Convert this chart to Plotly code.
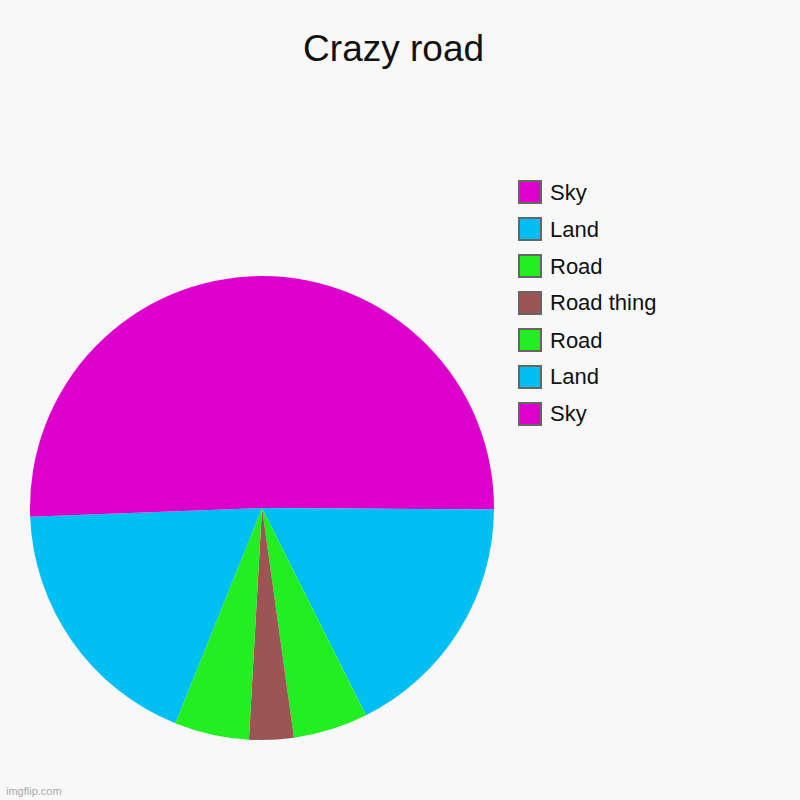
import plotly.graph_objects as go

# Data
labels = ["Sky", "Land", "Road", "Road thing", "Road", "Land", "Sky"]
values = [25.1, 17.5, 5.2, 3.1, 5.2, 18.3, 25.6]
colors = ["#DD00CC", "#00C0F3", "#22EE22", "#9B5555", "#22EE22", "#00C0F3", "#DD00CC"]

W, H = 800, 800
BG = "#F8F8F8"
FONT = "Arial, Liberation Sans, Helvetica, sans-serif"

fig = go.Figure()
fig.add_trace(go.Pie(
    labels=[str(i) for i in range(len(labels))],
    values=values,
    customdata=labels,
    hovertemplate="%{customdata}: %{value}<extra></extra>",
    marker=dict(colors=colors, line=dict(width=0)),
    sort=False,
    direction="clockwise",
    rotation=0,
    textinfo="none",
    showlegend=False,
    domain=dict(x=[30 / W, 494 / W], y=[1 - 740 / H, 1 - 276 / H]),
))

# Manual legend (large squares like the reference)
shapes = []
annotations = []
for i, (lab, col) in enumerate(zip(labels, colors)):
    cy = 192 + 37 * i
    shapes.append(dict(
        type="rect", xref="paper", yref="paper",
        x0=519 / W, x1=541 / W, y0=1 - (cy + 11) / H, y1=1 - (cy - 11) / H,
        fillcolor=col, line=dict(color="#666666", width=2),
    ))
    annotations.append(dict(
        xref="paper", yref="paper", x=548 / W, y=1 - cy / H,
        xanchor="left", yanchor="middle", text=lab, showarrow=False,
        font=dict(family=FONT, size=22, color="#111111"),
    ))

annotations.append(dict(
    xref="paper", yref="paper", x=4 / W, y=1 - 791 / H,
    xanchor="left", yanchor="middle", text="imgflip.com", showarrow=False,
    font=dict(family=FONT, size=11, color="#AAAAAA"),
))

fig.update_layout(
    width=W, height=H,
    margin=dict(l=0, r=0, t=0, b=0),
    paper_bgcolor=BG, plot_bgcolor=BG,
    title=dict(text="Crazy road", x=0.492, xanchor="center",
               y=1 - 48 / H, yanchor="middle",
               font=dict(family=FONT, size=37, color="#111111")),
    shapes=shapes,
    annotations=annotations,
)

fig.write_html(
    "out.html",
    config={"displayModeBar": False},
    post_script="document.body.style.margin='0';document.body.style.overflow='hidden';",
)
